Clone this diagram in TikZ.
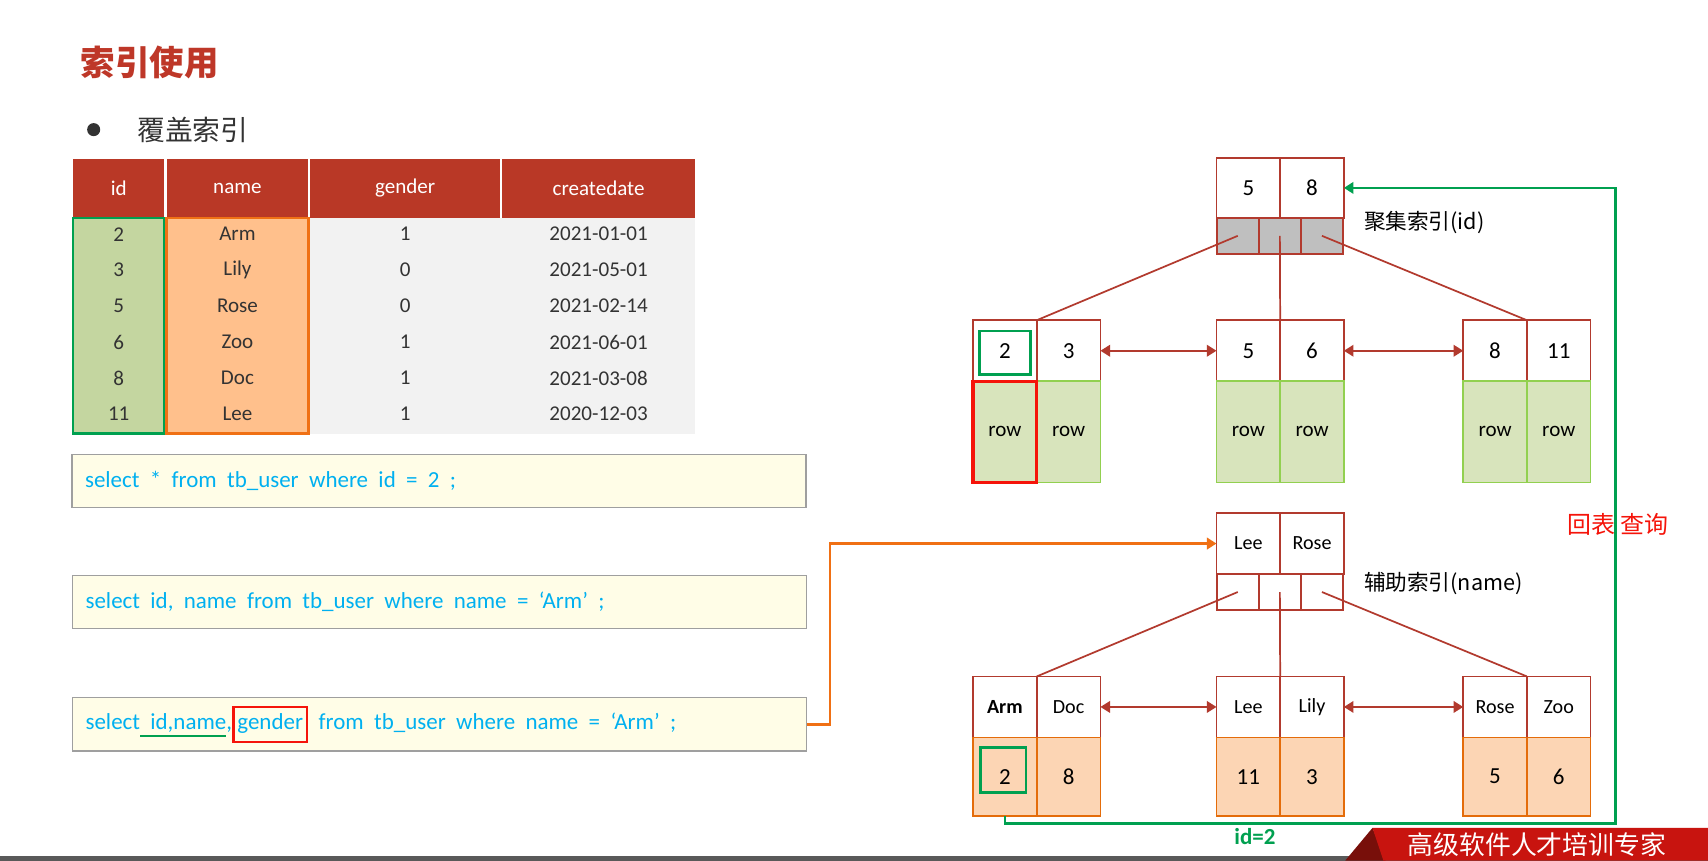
\documentclass[tikz,border=0pt]{standalone}
\usepackage{fontspec}
\setmainfont{Carlito}
\newfontfamily\cjk{Noto Sans CJK SC}
\usetikzlibrary{arrows.meta,positioning}
\definecolor{titlered}{RGB}{190,55,40}
\definecolor{headred}{RGB}{185,56,38}
\definecolor{tablegray}{RGB}{242,242,242}
\definecolor{idfill}{RGB}{196,214,160}
\definecolor{pathgreen}{RGB}{0,160,80}
\definecolor{namefill}{RGB}{255,192,140}
\definecolor{pathorange}{RGB}{240,112,20}
\definecolor{sqlfill}{RGB}{255,253,231}
\definecolor{sqlblue}{RGB}{0,176,240}
\definecolor{treered}{RGB}{178,58,46}
\definecolor{rowfill}{RGB}{216,228,188}
\definecolor{rowborder}{RGB}{146,208,80}
\definecolor{valfill}{RGB}{252,213,180}
\definecolor{valborder}{RGB}{228,108,10}
\definecolor{ptrgray}{RGB}{191,191,191}
\definecolor{hitred}{RGB}{245,20,10}
\definecolor{bannerred}{RGB}{200,20,15}
\definecolor{bannerdark}{RGB}{120,15,10}
\newcommand{\idline}[1]{\setbox0\hbox{#1}\rlap{\color{pathgreen}\rule[-4pt]{\wd0}{1.3pt}}\box0}
\newcommand{\genderbox}[1]{{\setlength{\fboxsep}{1.5pt}\setlength{\fboxrule}{1.3pt}\fcolorbox{hitred}{sqlfill}{\strut #1}}}
\newcommand{\sqlspacing}{\spaceskip=5.4pt plus 1pt\relax}
\tikzset{
    headcell/.style={
        rectangle,
        fill=headred,
        text=white,
        minimum height=1.08cm,
        inner sep=0pt,
        font=\fontsize{11}{13}\selectfont
    },
    cellfont/.style={
        text=black!80,
        font=\fontsize{11}{13}\selectfont
    },
    sqlbox/.style={
        rectangle,
        draw=gray!75,
        line width=0.6pt,
        fill=sqlfill,
        text width=13.0cm,
        inner xsep=0.24cm,
        minimum height=0.98cm,
        align=left,
        text=sqlblue,
        font=\fontsize{12}{14}\selectfont
    },
    keycell/.style={
        rectangle,
        draw=treered,
        line width=0.9pt,
        fill=white,
        minimum width=1.17cm,
        minimum height=1.12cm,
        inner sep=0pt,
        outer sep=0pt,
        font=\fontsize{12}{14}\selectfont
    },
    rowcell/.style={
        keycell,
        draw=rowborder,
        fill=rowfill,
        minimum height=1.86cm,
        font=\fontsize{11}{13}\selectfont
    },
    valcell/.style={
        keycell,
        draw=valborder,
        fill=valfill,
        minimum height=1.44cm
    },
    namecell/.style={
        keycell,
        font=\fontsize{10.5}{12}\selectfont
    },
    ptrcell/.style={
        rectangle,
        draw=treered,
        line width=0.9pt,
        fill=white,
        minimum width=0.773cm,
        minimum height=0.66cm,
        inner sep=0pt,
        outer sep=0pt
    },
    treeline/.style={
        draw=treered,
        line width=0.9pt
    },
    leaflink/.style={
        draw=treered,
        line width=1pt,
        {Triangle[width=6pt,length=5pt]}-{Triangle[width=6pt,length=5pt]}
    },
    treelabel/.style={
        anchor=west,
        font=\cjk\fontsize{11.3}{13}\selectfont
    }
}

\begin{document}
\begin{tikzpicture}[x=0.02cm,y=-0.02cm,node distance=0pt]
\useasboundingbox (0,0) rectangle (1568,790);
\fill[white] (0,0) rectangle (1568,790);

% title and bullet
\node[anchor=west,text=titlered,font=\cjk\bfseries\fontsize{18}{20}\selectfont] (title) at (68,57) {索引使用};
\node[circle,fill=black!80,minimum size=0.24cm,inner sep=0pt] (bullet) at (86,119) {};
\node[anchor=west,text=black!80,font=\cjk\fontsize{14.5}{16}\selectfont] (subtitle) at (120,119) {覆盖索引};

% table
\node[rectangle,fill=tablegray,minimum width=11.42cm,minimum height=3.96cm] (rowsbg) at (352.5,299) {};
\node[headcell,minimum width=1.68cm] (hid) at (109,173) {id};
\node[headcell,minimum width=2.6cm] (hname) at (218,173) {name};
\node[headcell,minimum width=3.48cm] (hgender) at (372,173) {gender};
\node[headcell,minimum width=3.54cm] (hdate) at (549.5,173) {createdate};
\node[rectangle,draw=pathgreen,line width=1.4pt,fill=idfill,minimum width=1.68cm,minimum height=3.96cm] (idcol) at (109,299) {};
\node[rectangle,draw=pathorange,line width=1.4pt,fill=namefill,minimum width=2.6cm,minimum height=3.96cm] (namecol) at (218,299) {};
\foreach \id/\nm/\g/\dt [count=\i from 0] in {2/Arm/1/2021-01-01,3/Lily/0/2021-05-01,5/Rose/0/2021-02-14,6/Zoo/1/2021-06-01,8/Doc/1/2021-03-08,11/Lee/1/2020-12-03}{
  \node[cellfont] (id-\i) at (109,215+33*\i) {\id};
  \node[cellfont] (nm-\i) at (218,215+33*\i) {\nm};
  \node[cellfont] (g-\i) at (372,215+33*\i) {\g};
  \node[cellfont] (dt-\i) at (549.5,215+33*\i) {\dt};
}

% queries
\node[sqlbox] (q1) at (403,441.5) {\sqlspacing select * from tb\_user where id = 2 ;};
\node[sqlbox] (q2) at (403.5,552.5) {\sqlspacing select id, name from tb\_user where name = ‘Arm’ ;};
\node[sqlbox] (q3) at (403.5,665) {\sqlspacing select\idline{ id,name},\genderbox{gender} from tb\_user where name = ‘Arm’ ;};

% clustered index
\node[keycell,minimum height=1.1cm] (r5) at (1146,172.5) {5};
\node[keycell,minimum height=1.1cm,right=of r5] (r8) {8};
\node[ptrcell,fill=ptrgray] (rp1) at (1136.3,216.5) {};
\node[ptrcell,fill=ptrgray,right=of rp1] (rp2) {};
\node[ptrcell,fill=ptrgray,right=of rp2] (rp3) {};
\node[treelabel] (clabel) at (1246,204) {聚集索引(id)};

\node[keycell] (l2) at (922.5,322) {2};
\node[keycell,right=of l2] (l3) {3};
\node[rowcell,below=of l3] (l3row) {row};
\node[rowcell,draw=hitred,line width=1.7pt,below=of l2] (l2row) {row};
\node[rectangle,draw=pathgreen,line width=1.4pt,minimum width=0.94cm,minimum height=0.8cm] (l2hit) at (922.5,324) {};
\node[keycell] (m5) at (1146,322) {5};
\node[keycell,right=of m5] (m6) {6};
\node[rowcell,below=of m5] (m5row) {row};
\node[rowcell,below=of m6] (m6row) {row};
\node[keycell] (n8) at (1372.5,322) {8};
\node[keycell,right=of n8] (n11) {11};
\node[rowcell,below=of n8] (n8row) {row};
\node[rowcell,below=of n11] (n11row) {row};

\draw[treeline] (rp1.center) -- (l2.north east);
\draw[treeline] (rp2.center) -- (m5.north east);
\draw[treeline] (rp3.center) -- (n8.north east);
\draw[leaflink] (l3.east) -- (m5.west);
\draw[leaflink] (m6.east) -- (n8.west);

% secondary index
\node[namecell] (sLee) at (1146,499) {Lee};
\node[namecell,right=of sLee] (sRose) {Rose};
\node[ptrcell] (sp1) at (1136.3,543.5) {};
\node[ptrcell,right=of sp1] (sp2) {};
\node[ptrcell,right=of sp2] (sp3) {};
\node[treelabel] (slabel) at (1246,536) {辅助索引(name)};

\node[namecell,font=\bfseries\fontsize{10.5}{12}\selectfont] (aArm) at (922.5,649) {Arm};
\node[namecell,right=of aArm] (aDoc) {Doc};
\node[valcell,below=of aArm] (a2) {2};
\node[valcell,below=of aDoc] (a8) {8};
\node[rectangle,draw=pathgreen,line width=1.4pt,minimum width=0.84cm,minimum height=0.82cm] (a2hit) at (921,707) {};
\node[namecell] (bLee) at (1146,649) {Lee};
\node[namecell,right=of bLee] (bLily) {Lily};
\node[valcell,below=of bLee] (b11) {11};
\node[valcell,below=of bLily] (b3) {3};
\node[namecell] (cRose) at (1372.5,649) {Rose};
\node[namecell,right=of cRose] (cZoo) {Zoo};
\node[valcell,below=of cRose] (c5) {5};
\node[valcell,below=of cZoo] (c6) {6};

\draw[treeline] (sp1.center) -- (aArm.north east);
\draw[treeline] (sp2.center) -- (bLee.north east);
\draw[treeline] (sp3.center) -- (cRose.north east);
\draw[leaflink] (aDoc.east) -- (bLee.west);
\draw[leaflink] (bLily.east) -- (cRose.west);

% lookup paths
\coordinate (oturn) at (762,665);
\draw[pathorange,line width=1.4pt,-{Triangle[width=6pt,length=5pt]}] (q3.east) -- (oturn) |- (sLee.west);
\coordinate (gturn) at (1483,756);
\draw[pathgreen,line width=1.4pt,-{Triangle[width=6pt,length=5pt]}] (a2.south) |- (gturn) |- (r8.east);
\node[text=pathgreen,font=\bfseries\fontsize{12}{14}\selectfont] (idlabel) at (1152,768) {id=2};
\node[text=hitred,font=\cjk\fontsize{12.5}{14}\selectfont] (backlabel) at (1485,481) {回表 查询};

% bottom bar and banner
\fill[black!65] (0,786) rectangle (1568,790);
\fill[bannerdark] (1235,790) -- (1260,760) -- (1272,790) -- cycle;
\fill[bannerred] (1260,760) -- (1568,760) -- (1568,790) -- (1270,790) -- cycle;
\node[anchor=west,text=white,inner sep=0pt,font=\cjk\fontsize{13.5}{15}\selectfont] (banner) at (1292,775) {高级软件人才培训专家};
\end{tikzpicture}
\end{document}
